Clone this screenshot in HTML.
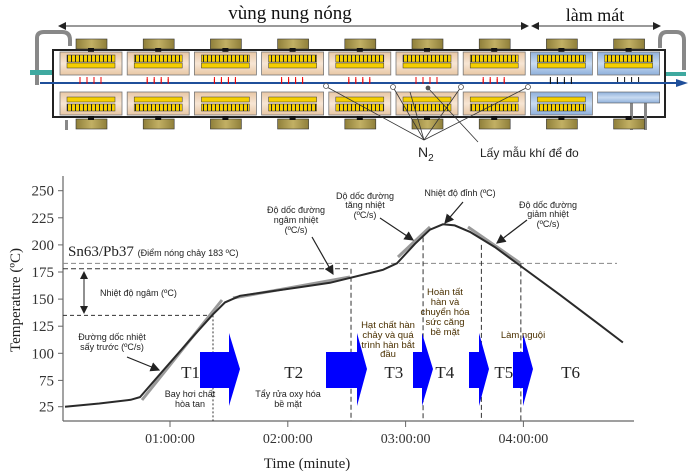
<!DOCTYPE html>
<html><head><meta charset="utf-8">
<style>
html,body{margin:0;padding:0;background:#fff;}
svg{display:block;font-family:"Liberation Sans",sans-serif;}
.serif{font-family:"Liberation Serif",serif;}
.ann{font-size:9px;fill:#222;}
.brn{font-size:9.5px;fill:#4a3000;}
</style></head>
<body>
<svg id="root" width="700" height="476" viewBox="0 0 700 476">
<defs>
  <linearGradient id="tan" x1="0" y1="0" x2="0" y2="1"><stop offset="0" stop-color="#e8c7a5"/><stop offset="0.5" stop-color="#f7e6d4"/><stop offset="1" stop-color="#e8c7a5"/></linearGradient>
  <linearGradient id="blu" x1="0" y1="0" x2="0" y2="1"><stop offset="0" stop-color="#8fb0db"/><stop offset="0.5" stop-color="#c9dbf1"/><stop offset="1" stop-color="#8fb0db"/></linearGradient>
  <linearGradient id="olv" x1="0" y1="0" x2="1" y2="0"><stop offset="0" stop-color="#8f7f3a"/><stop offset="0.5" stop-color="#c2b064"/><stop offset="1" stop-color="#8f7f3a"/></linearGradient>
  <pattern id="comb" width="4" height="8" patternUnits="userSpaceOnUse"><rect width="4" height="8" fill="#f5cf00"/><rect x="3" width="1" height="8" fill="#222"/></pattern>
  <marker id="ah" markerWidth="8" markerHeight="8" refX="7" refY="4" orient="auto"><path d="M0,0 L8,4 L0,8 z" fill="#222"/></marker>
  <marker id="ahs" markerWidth="8" markerHeight="8" refX="1" refY="4" orient="auto"><path d="M8,0 L0,4 L8,8 z" fill="#222"/></marker>
</defs>

<g id="oven">
  <text x="290" y="19" class="serif" font-size="19" text-anchor="middle" fill="#111">vùng nung nóng</text>
  <text x="595" y="21" class="serif" font-size="18" text-anchor="middle" fill="#111">làm mát</text>
  <line x1="59" y1="26" x2="528" y2="26" stroke="#333" stroke-width="1" marker-start="url(#ahs)" marker-end="url(#ah)"/>
  <line x1="532" y1="26" x2="660" y2="26" stroke="#333" stroke-width="1" marker-start="url(#ahs)" marker-end="url(#ah)"/>
  <rect x="53" y="50" width="612" height="67" fill="none" stroke="#222" stroke-width="2"/>
  <path d="M37,85 V38 Q37,32 44,32 H62 Q70,32 70,40 V46" fill="none" stroke="#888" stroke-width="4"/>
  <path d="M660,48 V40 Q660,32 667,32 H676 Q684,32 684,40 V70" fill="none" stroke="#888" stroke-width="4"/>
  <rect x="30" y="70" width="22" height="5" fill="#3fa9a0"/>
  <rect x="666" y="72" width="20" height="4" fill="#3fa9a0"/>
  <rect x="644" y="100" width="3" height="30" fill="#888"/><rect x="630" y="100" width="3" height="30" fill="#888"/>
  <rect x="65" y="120" width="3" height="10" fill="#888"/>
  <line x1="40" y1="83" x2="680" y2="83" stroke="#1f4f9a" stroke-width="2"/>
  <path d="M676,79 L688,83 L676,87 z" fill="#1f4f9a"/>
  <g id="boxes"></g>
  <g stroke="#333" stroke-width="0.8" fill="none">
    <line x1="424" y1="140" x2="393" y2="87"/><line x1="424" y1="140" x2="461" y2="87"/>
    <line x1="424" y1="140" x2="528" y2="87"/><line x1="424" y1="140" x2="325" y2="86"/>
    <line x1="424" y1="140" x2="410" y2="92"/>
    <line x1="478" y1="142" x2="428" y2="88"/>
  </g>
  <g fill="#fff" stroke="#555" stroke-width="0.8"><circle cx="393" cy="87" r="2.5"/><circle cx="461" cy="87" r="2.5"/><circle cx="528" cy="87" r="2.5"/><circle cx="326" cy="86" r="2.5"/><circle cx="428" cy="88" r="2" fill="#555"/></g>
  <text x="418" y="157" font-size="14" fill="#222">N<tspan font-size="10" dy="4">2</tspan></text>
  <text x="480" y="157" font-size="12" fill="#222">Lấy mẫu khí để đo</text>
</g>

<g id="chart">
  <line x1="63" y1="176" x2="63" y2="421" stroke="#666" stroke-width="1.2"/>
  <line x1="63" y1="421" x2="634" y2="421" stroke="#666" stroke-width="1.2"/>
  <g id="yticks"></g>
  <g id="xticks"></g>
  <text transform="translate(20,300) rotate(-90)" class="serif" font-size="15" text-anchor="middle" fill="#222">Temperature (ºC)</text>
  <text x="307" y="468" class="serif" font-size="15" text-anchor="middle" fill="#222">Time (minute)</text>
  <g id="refs"></g>
  <g id="arrows"></g>
  <g id="tangents"></g>
  <path id="curve" fill="none" stroke="#2a2a2a" stroke-width="2"/>
  <line x1="84" y1="272" x2="84" y2="313" stroke="#222" marker-start="url(#ahs)" marker-end="url(#ah)"/>
  <text x="68" y="256" class="serif" font-size="15" fill="#222">Sn63/Pb37 <tspan font-family="Liberation Sans" font-size="9">(Điểm nóng chảy 183 ºC)</tspan></text>
  <text x="100" y="296" class="ann">Nhiệt độ ngâm (ºC)</text>
  <g class="ann" text-anchor="middle">
    <text x="112" y="340">Đường dốc nhiệt</text><text x="112" y="350">sấy trước (ºC/s)</text>
    <text x="296" y="213">Độ dốc đường</text><text x="296" y="223">ngâm nhiệt</text><text x="296" y="233">(ºC/s)</text>
    <text x="365" y="199">Dộ dốc đường</text><text x="365" y="208">tăng nhiệt</text><text x="365" y="218">(ºC/s)</text>
    <text x="460" y="196">Nhiệt độ đỉnh (ºC)</text>
    <text x="548" y="208">Độ dốc đường</text><text x="548" y="217">giảm nhiệt</text><text x="548" y="227">(ºC/s)</text>
    <text x="190" y="397">Bay hơi chất</text><text x="190" y="407">hòa tan</text>
    <text x="288" y="397">Tẩy rửa oxy hóa</text><text x="288" y="407">bề mặt</text>
  </g>
  <g class="brn" text-anchor="middle">
    <text x="388" y="328">Hạt chất hàn</text><text x="388" y="338">chảy và quá</text><text x="388" y="348">trình hàn bắt</text><text x="388" y="357">đầu</text>
    <text x="445" y="295">Hoàn tất</text><text x="445" y="305">hàn và</text><text x="445" y="315">chuyển hóa</text><text x="445" y="325">sức căng</text><text x="445" y="335">bề mặt</text>
    <text x="523" y="338">Làm nguội</text>
  </g>
  <g stroke="#222" stroke-width="1.2" fill="none">
    <line x1="127" y1="357" x2="159" y2="370" marker-end="url(#ah)"/>
    <line x1="312" y1="237" x2="333" y2="274" marker-end="url(#ah)"/>
    <line x1="380" y1="218" x2="413" y2="240" marker-end="url(#ah)"/>
    <line x1="463" y1="202" x2="445" y2="223" marker-end="url(#ah)"/>
    <line x1="527" y1="220" x2="497" y2="243" marker-end="url(#ah)"/>
  </g>
  <g id="phases" class="serif" font-size="17" fill="#222"></g>
</g>

<script>
const timesMin = [6.5, 24, 40, 44.7, 55, 70, 81.9, 88, 95.6, 126, 141.5, 168.5, 175.6, 184.8, 192.4, 199, 205, 212.8, 225.5, 238.2, 258.6, 279, 290.7];
const temps = [25, 31, 38, 43, 81, 112, 136, 147, 153, 161, 165, 177, 183, 201, 214, 219, 218, 212, 198, 181, 154, 126, 110];
const yTicks = [250, 225, 200, 175, 150, 125, 100, 75, 25];
const xTickMin = [60, 120, 180, 240];
const xTickLabels = ["01:00:00", "02:00:00", "03:00:00", "04:00:00"];
const phaseLabels = ["T1", "T2", "T3", "T4", "T5", "T6"];
const phaseCenterMin = [70.5, 123, 174, 200, 230, 264];
const phaseBoundMin = [81.9, 152.2, 188.9, 218.6, 238.7];
const meltTemp = 183;
const soakHigh = 178;
const soakLow = 135;

const NS = "http://www.w3.org/2000/svg";
function X(m){ return 52.2 + m * 117.8 / 60; }
function Y(v){ return v >= 75 ? 190.7 + (250 - v) * 1.084 : 380 + (75 - v) / 50 * 26.7; }
function mk(tag, attrs, parent){ const e = document.createElementNS(NS, tag); for (const k in attrs) e.setAttribute(k, attrs[k]); parent.appendChild(e); return e; }

const yt = document.getElementById('yticks');
yTicks.forEach(v => {
  const l = mk('line', {x1:58, x2:63, y1:Y(v), y2:Y(v), stroke:'#666'}, yt);
  
  
  const t = mk('text', {x:54, y:Y(v)+5, 'text-anchor':'end', 'font-size':15, fill:'#333', 'class':'serif'}, yt);
  t.textContent = v;
  
  
});
const xt = document.getElementById('xticks');
xTickMin.forEach((m, i) => {
  const l = mk('line', {x1:X(m), x2:X(m), y1:421, y2:427, stroke:'#666'}, xt);
  
  
  const t = mk('text', {x:X(m), y:443, 'text-anchor':'middle', 'font-size':14, fill:'#333', 'class':'serif'}, xt);
  t.textContent = xTickLabels[i];
  
  
});
const rf = document.getElementById('refs');
let r = mk('line', {x1:63, x2:617, y1:Y(meltTemp), y2:Y(meltTemp), stroke:'#888', 'stroke-dasharray':'5,3'}, rf);


r = mk('line', {x1:63, x2:X(phaseBoundMin[1]), y1:Y(soakHigh), y2:Y(soakHigh), stroke:'#333', 'stroke-dasharray':'5,3'}, rf);


r = mk('line', {x1:63, x2:X(phaseBoundMin[0]), y1:Y(soakLow), y2:Y(soakLow), stroke:'#333', 'stroke-dasharray':'4,3'}, rf);


const bTop = [soakLow, soakHigh, 207, 200, meltTemp];
phaseBoundMin.forEach((m, i) => {
  const l = mk('line', {x1:X(m), x2:X(m), y1:Y(bTop[i]), y2:421, stroke:'#333', 'stroke-dasharray': i==0 ? '2,2' : '5,3'}, rf);
  
  
});
const tg = document.getElementById('tangents');
[[[142,400],[222,300]],[[233,298],[350,277]],[[398,257],[430,227]],[[468,227],[520,263]]].forEach(s => {
  const l = mk('line', {x1:s[0][0], y1:s[0][1], x2:s[1][0], y2:s[1][1], stroke:'#9a9a9a', 'stroke-width':3}, tg);
  
  
});
document.getElementById('curve').setAttribute('d', timesMin.map((m,i)=>(i?'L':'M')+X(m).toFixed(1)+','+Y(temps[i]).toFixed(1)).join(' '));
const ar = document.getElementById('arrows');
const arrowStart = [[200,229,240],[326,357,367],[413,422,433],[469,479,489],[513,523,533]];
arrowStart.forEach(a => {
  const p = mk('path', {d:`M${a[0]},352 H${a[1]} V333 L${a[2]},369 L${a[1]},406 V388 H${a[0]} Z`, fill:'#0000ff'}, ar);
  
  
});
const ph = document.getElementById('phases');
phaseLabels.forEach((s, i) => {
  const t = mk('text', {x:X(phaseCenterMin[i]), y:378, 'text-anchor':'middle'}, ph);
  t.textContent = s;
  
  
});
const bx = document.getElementById('boxes');
for (let i = 0; i < 9; i++) {
  const x0 = 60 + i * 67.2, cool = i >= 7;
  [[52,true],[92,false]].forEach(([y0, top]) => {
    const g = mk('g', {}, bx);
    
    
    const kY = top ? 39 : 119;
    mk('rect', {x:x0+16, y:kY, width:31, height:10, fill:'url(#olv)', stroke:'#333', 'stroke-width':0.6}, g);
    mk('rect', {x:x0+28, y: top ? 48 : 116, width:6, height:4, fill:'#111'}, g);
    if (cool && !top && i == 8) {
      mk('rect', {x:x0, y:92, width:62, height:11, fill:'url(#blu)', stroke:'#555', 'stroke-width':0.6}, g);
      return;
    }
    mk('rect', {x:x0, y:y0, width:62, height:23, fill: cool ? 'url(#blu)' : 'url(#tan)', stroke:'#777', 'stroke-width':0.8}, g);
    const cy = top ? y0+3 : y0+12, by = top ? y0+11 : y0+5;
    mk('rect', {x:x0+7, y:cy, width:48, height:7, fill:'url(#comb)', stroke:'#333', 'stroke-width':0.5}, g);
    mk('rect', {x:x0+7, y:by, width:48, height:5, fill:'#f5cf00', stroke:'#333', 'stroke-width':0.5}, g);
    const col = cool ? '#111' : '#e00';
    for (let k = 0; k < 4; k++) {
      const ax = x0 + 20 + k * 7;
      const ya = top ? 77 : 79;
      mk('line', {x1:ax, x2:ax, y1:ya, y2:ya+5, stroke:col, 'stroke-width':1}, g);
    }
  });
}
</script>
</svg>
</body></html>
